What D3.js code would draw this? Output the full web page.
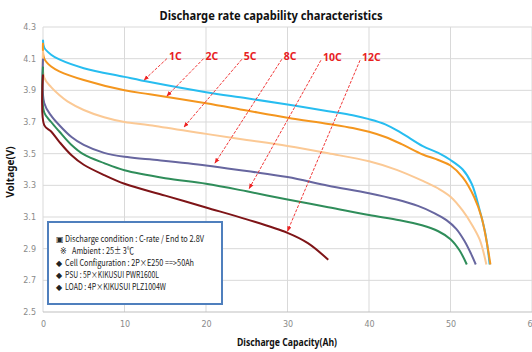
<!DOCTYPE html>
<html>
<head>
<meta charset="utf-8">
<script src="https://cdn.jsdelivr.net/npm/d3@7"></script>
<style>
  body { margin: 0; background: #fff; }
  svg { display: block; }
</style>
</head>
<body>
<svg id="chart" width="532" height="352"></svg>
<script>
// discharge curves, [capacity Ah, voltage V]
const c1 = [[0,4.22],[0.15,4.17],[1,4.125],[2,4.095],[5,4.04],[10,3.985],[13.1,3.952],[20,3.888],[25,3.85],[30,3.81],[35,3.768],[38,3.742],[40,3.718],[42,3.685],[44,3.63],[46.6,3.548],[48.5,3.505],[50,3.46],[51.5,3.40],[52.6,3.31],[53.6,3.14],[54.3,2.99],[54.8,2.8]];
const c2 = [[0,4.2],[0.15,4.10],[1,4.05],[2,4.02],[5,3.965],[10,3.9],[13.1,3.875],[20,3.818],[25,3.772],[30,3.727],[35,3.688],[38,3.662],[40,3.638],[42,3.605],[44,3.56],[46.6,3.495],[48.5,3.46],[50,3.425],[51.5,3.35],[52.9,3.226],[53.8,3.10],[54.4,2.955],[54.9,2.8]];
const c5 = [[0,4.15],[0.15,3.98],[1,3.92],[2,3.87],[3,3.83],[5,3.776],[7.5,3.73],[10,3.70],[13.1,3.68],[20,3.625],[25,3.587],[30,3.548],[35,3.502],[40,3.452],[43.4,3.398],[46.6,3.328],[48.5,3.28],[50,3.228],[51.5,3.14],[52.7,3.045],[53.6,2.955],[54.4,2.8]];
const c8 = [[0,4.1],[0.15,3.82],[1,3.74],[2,3.68],[3.5,3.605],[5,3.555],[7.5,3.505],[10,3.48],[13.1,3.464],[20,3.426],[25,3.39],[30,3.352],[35,3.298],[40,3.25],[43.4,3.21],[46,3.17],[48,3.125],[49.5,3.08],[50.7,3.025],[51.7,2.95],[52.5,2.87],[53.1,2.8]];
const c10 = [[0,4.05],[0.15,3.76],[1,3.70],[2,3.64],[3.5,3.555],[5,3.495],[7.5,3.44],[10,3.395],[15,3.345],[20,3.31],[25,3.262],[30,3.21],[35,3.162],[40,3.112],[43.75,3.08],[46.5,3.048],[48.5,3.01],[50,2.96],[51.1,2.89],[52,2.8]];
const c12 = [[0,4.0],[0.15,3.68],[1,3.64],[2,3.575],[3.5,3.49],[5,3.43],[7.5,3.365],[10,3.31],[15,3.235],[20,3.16],[25,3.085],[30,3.0],[32.5,2.935],[35,2.83]];

const seriesNames = ["1C", "2C", "5C", "8C", "10C", "12C"];
const seriesData = [c1, c2, c5, c8, c10, c12];
const seriesColors = ["#27bdf0", "#f4961e", "#fbc995", "#67669f", "#2f8d5a", "#7e1417"];

// annotation arrows: label foot and arrow tip, in data units
const arrowFrom = [[15.2,4.10],[19.7,4.10],[24.4,4.096],[29.3,4.096],[34.1,4.09],[38.9,4.09]];
const arrowTo = [[12.4,3.965],[15.2,3.864],[17.3,3.668],[21.1,3.44],[25.3,3.28],[30.0,3.01]];

const xTicks = [0, 10, 20, 30, 40, 50, 60];
const yTicks = [2.5, 2.7, 2.9, 3.1, 3.3, 3.5, 3.7, 3.9, 4.1, 4.3];

const noteLines = [
  ["▣", "Discharge condition : C-rate / End to 2.8V"],
  ["※", "Ambient : 25± 3℃"],
  ["◆", "Cell Configuration : 2P×E250 ==>50Ah"],
  ["◆", "PSU : 5P×KIKUSUI PWR1600L"],
  ["◆", "LOAD : 4P×KIKUSUI PLZ1004W"]
];

const svg = d3.select("#chart");
const margin = {top: 27, left: 43};
const W = 489, H = 285;

const x = d3.scaleLinear().domain([0, 60]).range([margin.left, margin.left + W]);
const y = d3.scaleLinear().domain([2.5, 4.3]).range([margin.top + H, margin.top]);

// grid
svg.append("g").selectAll("line").data(xTicks).join("line")
  .attr("x1", d => x(d)).attr("x2", d => x(d))
  .attr("y1", y(4.3)).attr("y2", y(2.5))
  .attr("stroke", "#d9d9d9").attr("stroke-width", 1);
svg.append("g").selectAll("line").data(yTicks).join("line")
  .attr("x1", x(0)).attr("x2", x(60))
  .attr("y1", d => y(d)).attr("y2", d => y(d))
  .attr("stroke", d => d === 2.5 ? "#bfbfbf" : "#d9d9d9").attr("stroke-width", 1);

// axes (labels only)
const xAxis = svg.append("g").attr("transform", `translate(0,${y(2.5)})`)
  .call(d3.axisBottom(x).tickValues(xTicks).tickSize(0).tickPadding(9));
const yAxis = svg.append("g").attr("transform", `translate(${x(0)},0)`)
  .call(d3.axisLeft(y).tickValues(yTicks).tickFormat(d3.format(".1f")).tickSize(0).tickPadding(7));
[xAxis, yAxis].forEach(a => {
  a.select(".domain").remove();
  a.selectAll("text").attr("fill", "#8a8a8a").style("font-family", "DejaVu Sans").style("font-size", "8px");
});

// curves
const line = d3.line().x(d => x(d[0])).y(d => y(d[1])).curve(d3.curveCatmullRom.alpha(0.5));
svg.append("g").selectAll("path").data(seriesData).join("path")
  .attr("d", line)
  .attr("fill", "none")
  .attr("stroke", (d, i) => seriesColors[i])
  .attr("stroke-width", 2);

// arrows
svg.append("defs").append("marker")
  .attr("id", "head").attr("viewBox", "0 0 10 10")
  .attr("refX", 9).attr("refY", 5)
  .attr("markerWidth", 6).attr("markerHeight", 6)
  .attr("orient", "auto")
  .append("path").attr("d", "M0,1 L10,5 L0,9 Z").attr("fill", "#ee2222");

const ann = svg.append("g");
seriesNames.forEach((name, i) => {
  const [fx, fy] = arrowFrom[i], [tx, ty] = arrowTo[i];
  ann.append("line")
    .attr("x1", x(fx)).attr("y1", y(fy))
    .attr("x2", x(tx)).attr("y2", y(ty))
    .attr("stroke", "#ee2222").attr("stroke-width", 0.9)
    .attr("stroke-dasharray", "3,1.5")
    .attr("marker-end", "url(#head)");
  ann.append("text")
    .attr("x", x(fx) + 2).attr("y", y(fy) + 1)
    .attr("fill", "#e8211f")
    .style("font-family", "Noto Sans").style("font-weight", "bold").style("font-size", "10.5px")
    .text(name);
});

// note box
const box = svg.append("g").attr("transform", "translate(48,222)");
box.append("rect").attr("width", 174).attr("height", 82)
  .attr("fill", "#fff").attr("stroke", "#4f7fbd").attr("stroke-width", 2);
const noteX = [8, 12, 8, 8, 8];
const textX = [17, 24, 17, 17, 17];
const noteW = [139, 62, 129, 94, 101];
noteLines.forEach((l, i) => {
  const ty = 20 + i * 12;
  box.append("text").attr("x", noteX[i]).attr("y", ty)
    .style("font-family", "DejaVu Sans").style("font-size", "8px").attr("fill", "#222").text(l[0]);
  box.append("text").attr("x", textX[i]).attr("y", ty)
    .attr("textLength", noteW[i]).attr("lengthAdjust", "spacingAndGlyphs")
    .style("font-family", "Noto Sans CJK KR").style("font-size", "9px").attr("fill", "#222").text(l[1]);
});

// titles
svg.append("text").attr("x", 271).attr("y", 20).attr("text-anchor", "middle")
  .attr("textLength", 223).attr("lengthAdjust", "spacingAndGlyphs")
  .style("font-family", "Noto Sans").style("font-weight", "bold").style("font-size", "12.5px")
  .attr("fill", "#111").text("Discharge rate capability characteristics");
svg.append("text").attr("x", 287).attr("y", 346).attr("text-anchor", "middle")
  .attr("textLength", 100).attr("lengthAdjust", "spacingAndGlyphs")
  .style("font-family", "Noto Sans").style("font-weight", "bold").style("font-size", "10px")
  .attr("fill", "#111").text("Discharge Capacity(Ah)");
svg.append("text").attr("transform", "translate(14,172) rotate(-90)").attr("text-anchor", "middle")
  .style("font-family", "Noto Sans").style("font-weight", "bold").style("font-size", "10px")
  .attr("fill", "#111").text("Voltage(V)");
</script>
</body>
</html>
